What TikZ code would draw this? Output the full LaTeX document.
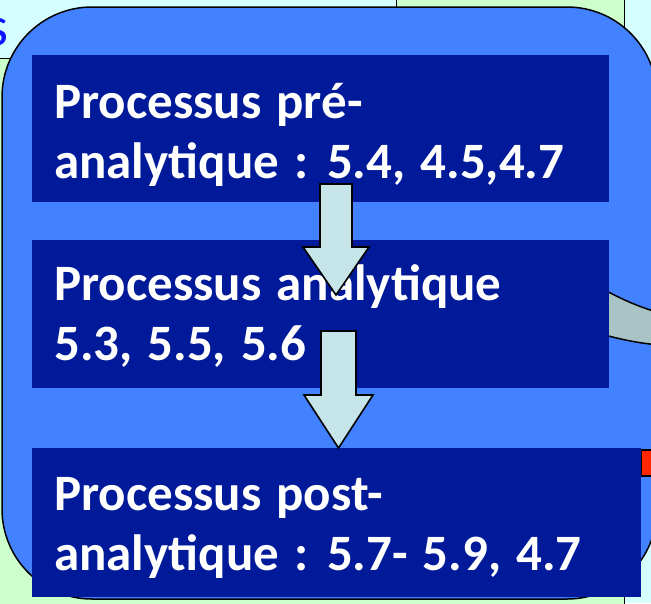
\documentclass[tikz,border=0pt]{standalone}
\usepackage{fontspec}
\setmainfont[WordSpace=1.3]{Carlito}
\usetikzlibrary{calc}

\definecolor{bgcyan}{HTML}{D5FFFF}
\definecolor{boxgreen}{HTML}{CCFFCC}
\definecolor{framblue}{HTML}{4281FF}
\definecolor{procdark}{HTML}{001A99}
\definecolor{arrowfill}{HTML}{C5E5E8}
\definecolor{bandgray}{HTML}{A8C4C4}
\definecolor{markred}{HTML}{FF2600}
\definecolor{sblue}{HTML}{0A14FF}

\begin{document}
\begin{tikzpicture}[x=1pt, y=-1pt,
    procbox/.style={fill=procdark, anchor=north west, inner sep=0pt},
    proctext/.style={text=white, font=\fontsize{51}{60}\selectfont\bfseries,
        align=left, anchor=base west, inner sep=0pt},
    blockarrow/.style={draw=black, line width=1.6pt, fill=arrowfill}]
    \useasboundingbox (0,0) rectangle (651,603);
    \clip (0,0) rectangle (651,603);

    % Background boxes
    \fill[bgcyan] (0,0) rectangle (651,603);
    \draw[fill=boxgreen, line width=1pt] (-5,58) rectangle (624,610);
    \draw[fill=boxgreen, line width=1pt] (396,-5) rectangle (624,58);
    \node[text=sblue, font=\fontsize{56}{60}\selectfont, anchor=base east, inner sep=0pt] (slabel) at (9,45) {s};

    % Frame
    \draw[fill=framblue, line width=1.5pt, rounded corners=90] (2,7) rectangle (657,599);

    % Side connectors
    \draw[fill=bandgray, line width=1.5pt] (590,282) .. controls (615,296) and (635,306) .. (660,313)
        -- (660,345) .. controls (635,343) and (615,338) .. (590,331) -- cycle;
    \draw[fill=markred, line width=1.5pt] (641,450) rectangle (662,476);

    % Process boxes
    \node[procbox, minimum width=577, minimum height=147] (prebox) at (32,55) {};
    \node[procbox, minimum width=577, minimum height=148] (anabox) at (32,240) {};
    \node[procbox, minimum width=609, minimum height=149] (postbox) at (32,448) {};

    % Texts (base = last line)
    \node[proctext] (pretext) at (54,178) {Processus pré-\\analytique : 5.4, 4.5,4.7};
    \node[proctext] (anatext) at (54,360) {Processus analytique\\5.3, 5.5, 5.6};
    \node[proctext] (posttext) at (54,570) {Processus post-\\analytique : 5.7- 5.9, 4.7};

    % Block arrows
    \foreach \n/\xc/\ya/\yb/\sw/\hw/\hl in {1/336/184/295/16/33/48, 2/338.5/331/448/17.5/34.5/53} {
        \coordinate (top\n) at (\xc,\ya);
        \coordinate (tip\n) at (\xc,\yb);
        \draw[blockarrow] ($(top\n)+(-\sw,0)$) -- ($(top\n)+(\sw,0)$) -- ($(tip\n)+(\sw,-\hl)$)
            -- ($(tip\n)+(\hw,-\hl)$) -- (tip\n) -- ($(tip\n)+(-\hw,-\hl)$)
            -- ($(tip\n)+(-\sw,-\hl)$) -- cycle;
    }
\end{tikzpicture}
\end{document}
